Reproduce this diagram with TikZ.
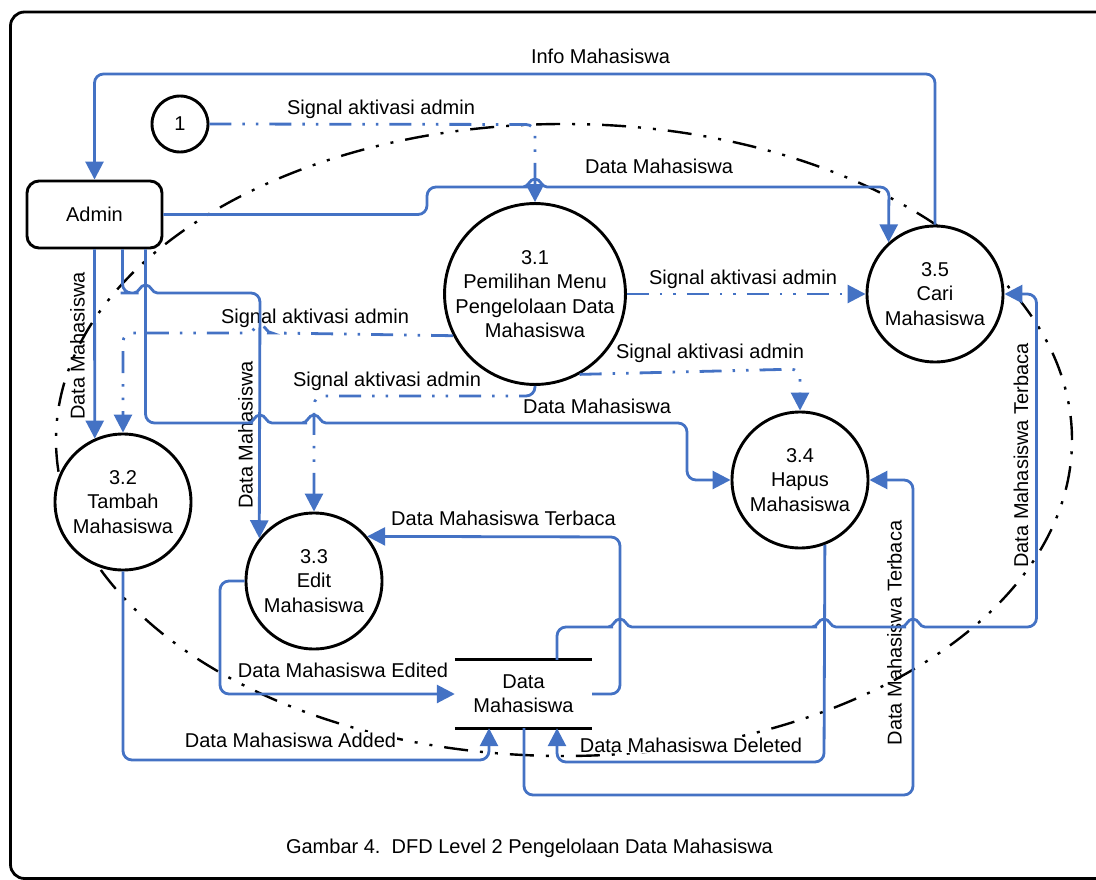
\documentclass[tikz,border=0pt]{standalone}
\usepackage{fontspec}
\setmainfont{Liberation Sans}
\usetikzlibrary{arrows.meta,calc}
\definecolor{flow}{RGB}{68,114,196}
\tikzset{
  proc/.style={circle, draw=black, line width=2.9pt, fill=white, minimum size=136pt, inner sep=0pt, align=center, font=\fontsize{20}{24.5}\selectfont},
  flowline/.style={draw=flow, line width=2.8pt, rounded corners=9pt},
  arr/.style={-{Triangle[length=18pt,width=18pt]}},
  sig/.style={flowline, dash pattern=on 22pt off 11pt on 2.5pt off 11pt on 2.5pt off 11pt},
  lbl/.style={font=\fontsize{20}{24}\selectfont, anchor=base, inner sep=1pt},
  lblw/.style={lbl, fill=white},
  vlbl/.style={lbl, rotate=90},
  bound/.style={draw=black, line width=2.4pt, dash pattern=on 24pt off 12pt on 3pt off 12pt on 3pt off 12pt},
  hopr/.style 2 args={insert path={-- (#1-16,#2) [sharp corners] -- (#1-12,#2) .. controls (#1-6,#2) and (#1-6,#2-8) .. (#1,#2-8) .. controls (#1+6,#2-8) and (#1+6,#2) .. (#1+12,#2) -- (#1+16,#2) [rounded corners=9pt]}},
  hopl/.style 2 args={insert path={-- (#1+16,#2) [sharp corners] -- (#1+12,#2) .. controls (#1+6,#2) and (#1+6,#2-8) .. (#1,#2-8) .. controls (#1-6,#2-8) and (#1-6,#2) .. (#1-12,#2) -- (#1-16,#2) [rounded corners=9pt]}}
}
\begin{document}
\begin{tikzpicture}[x=1pt,y=-1pt]
\useasboundingbox (0,0) rectangle (1096,880);
\begin{scope}
\clip (0,0) rectangle (1096,880);
\draw[line width=2.8pt, rounded corners=14pt] (10.5,12) rectangle (1120,878.5);
\end{scope}

% boundary
\draw[bound] (564,440) ellipse [x radius=508pt, y radius=316pt];

% labels
\node[lbl]  (lInfo) at (600.5,64) {Info Mahasiswa};
\node[lbl]  (lSig1) at (381,115) {Signal aktivasi admin};
\node[lbl]  (lDM1)  at (659,174) {Data Mahasiswa};
\node[lbl]  (lSig2) at (743,284) {Signal aktivasi admin};
\node[lbl]  (lSig3) at (315,323) {Signal aktivasi admin};
\node[lbl]  (lSig4) at (387,386) {Signal aktivasi admin};
\node[lbl]  (lSig5) at (710,358) {Signal aktivasi admin};
\node[lbl]  (lDM2)  at (597,413) {Data Mahasiswa};
\node[lblw] (lTb1)  at (503.5,525) {Data Mahasiswa Terbaca};
\node[lblw] (lEd)   at (343,677) {Data Mahasiswa Edited};
\node[lblw] (lAdd)  at (290.5,747) {Data Mahasiswa Added};
\node[lblw] (lDel)  at (691,752) {Data Mahasiswa Deleted};
\node[vlbl] (lDM3)  at (84.5,346) {Data Mahasiswa};
\node[vlbl] (lDM4)  at (252.5,435) {Data Mahasiswa};
\node[vlbl] (lTb2)  at (901.5,633) {Data Mahasiswa Terbaca};
\node[vlbl] (lTb3)  at (1028,455.5) {Data Mahasiswa Terbaca};
\node[lbl]  (cap)   at (529.5,853) {Gambar 4.\ \ DFD Level 2 Pengelolaan Data Mahasiswa};

% nodes
\node[draw=black, line width=2.9pt, rounded corners=12pt, fill=white, minimum width=135pt, minimum height=67pt, font=\fontsize{20}{24}\selectfont] (admin) at (94.5,214.5) {Admin};
\node[circle, draw=black, line width=2.9pt, fill=white, minimum size=56pt, inner sep=0pt, font=\fontsize{20}{24}\selectfont] (one) at (180,124) {1};
\node[proc, minimum size=170pt] (p31) at (535,294) {3.1\\Pemilihan Menu\\Pengelolaan Data\\Mahasiswa};
\node[proc] (p32) at (123,502) {3.2\\Tambah\\Mahasiswa};
\node[proc] (p33) at (314,581) {3.3\\Edit\\Mahasiswa};
\node[proc] (p34) at (800,480) {3.4\\Hapus\\Mahasiswa};
\node[proc] (p35) at (935,294) {3.5\\Cari\\Mahasiswa};
\node[minimum width=137pt, minimum height=68pt, inner sep=0pt, align=center, font=\fontsize{20}{24}\selectfont] (store) at (523.5,694) {Data\\Mahasiswa};
\draw[line width=2.9pt] (store.north west) -- (store.north east);
\draw[line width=2.9pt] (store.south west) -- (store.south east);

% flows
\draw[flowline,arr] (p35.north) -- (935,74) -- (94.5,74) -- (admin.north);
\draw[sig,arr] (one.east) -- (535,124.5) -- (p31.north);
\draw[flowline,arr] (admin.east) -- (427,214.5) -- (427,187) [hopr={535}{187}] -- (889,187) -- (p35.132.6);
\draw[sig,arr] (p31.east) -- (p35.west);
\draw[sig,arr] (p31.207.3) [hopl={260}{333}] -- (123,333) -- (p32.north);
\draw[sig,arr] (p31.south) -- (535,396) -- (314,396) -- (p33.north);
\draw[sig,arr] (p31.-61.9) -- (800,369) -- (p34.north);
\draw[flowline,arr] (admin.south) -- (p32.114.3);
\draw[flowline,arr] ([xshift=28pt]admin.south) -- (122.5,293) [hopr={145.5}{293}] -- (260,293) -- (p33.142.6);
\draw[flowline,arr] ([xshift=51pt]admin.south) -- (145.5,423) [hopr={260}{423}] [hopr={314}{423}] -- (687,423) -- (687,480) -- (p34.west);
\draw[flowline,arr] (p32.south) -- (123,760) -- (489,760) -- ([xshift=-34.5pt]store.south);
\draw[flowline,arr] (p33.west) -- (220,581) -- (220,694) -- (store.west);
\draw[flowline,arr] (store.east) -- (620,694) -- (620,537) -- (p33.40.3);
\draw[flowline,arr] (p34.-69.3) -- (824,762) -- (557,762) -- ([xshift=33.5pt]store.south);
\draw[flowline,arr] ([xshift=0.5pt]store.south) -- (524,795) -- (913,795) -- (913,480) -- (p34.east);
\draw[flowline,arr] ([xshift=33.5pt]store.north) -- (557,627) [hopr={620}{627}] [hopr={824}{627}] [hopr={913}{627}] -- (1036.5,627) -- (1036.5,294) -- (p35.east);
\end{tikzpicture}
\end{document}
